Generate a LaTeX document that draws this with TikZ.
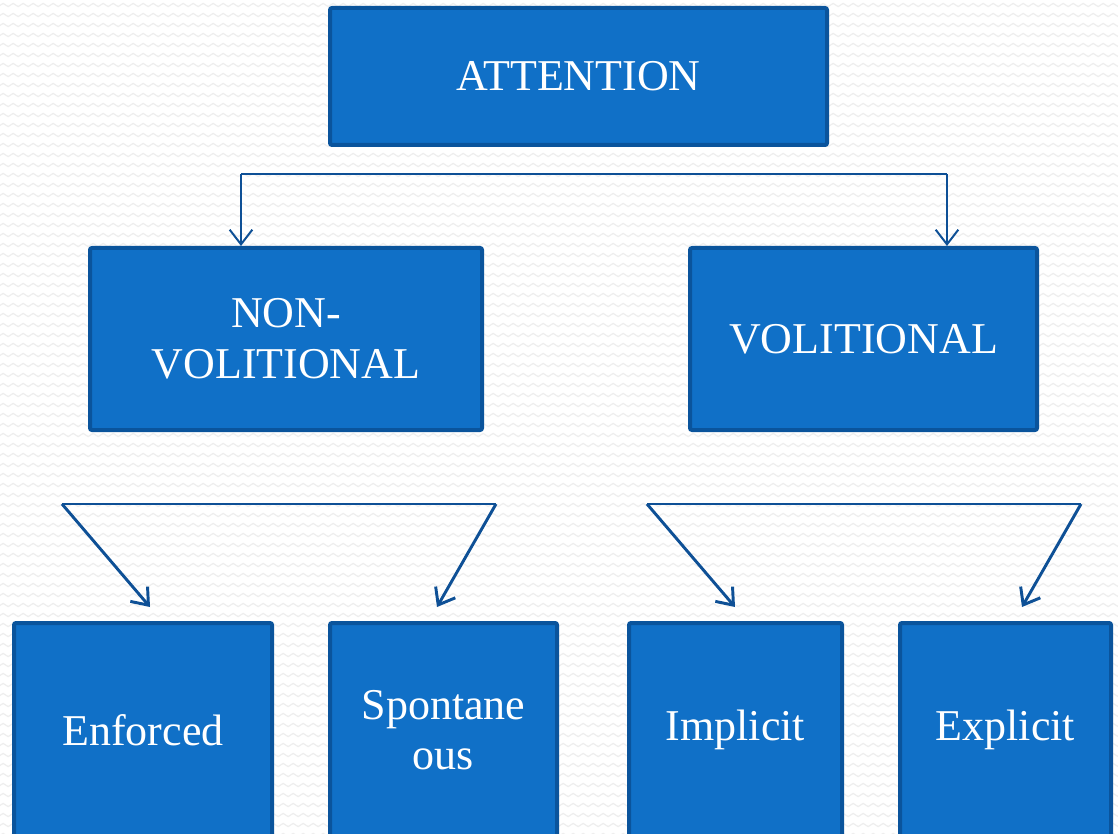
\documentclass[tikz,border=0pt]{standalone}
\usepackage{fontspec}
\setmainfont{Liberation Serif}
\usetikzlibrary{arrows.meta,decorations.pathmorphing}
\definecolor{boxfill}{RGB}{16,112,199}
\definecolor{boxline}{RGB}{10,84,156}
\definecolor{conn}{RGB}{14,80,150}
\definecolor{wave}{RGB}{238,238,238}
\tikzset{
  box/.style={draw=boxline, fill=boxfill, line width=3pt, rounded corners=1.5pt,
    inner sep=0pt, text=white, align=center,
    font=\fontsize{33}{38}\selectfont},
  thinline/.style={draw=conn, line width=1.5pt},
  arrowline/.style={draw=conn, line width=1.5pt, -{Straight Barb[length=11pt,width=17pt]}},
  diagarrow/.style={draw=conn, line width=2.2pt, -{Straight Barb[length=11pt,width=17pt]}},
  bgwave/.style={draw=wave, line width=0.9pt, decorate,
    decoration={snake, segment length=7.5pt, amplitude=1.2pt}}
}
\begin{document}
\begin{tikzpicture}[x=0.75pt,y=-0.75pt]
\useasboundingbox (0,0) rectangle (1118,834);
\clip (0,0) rectangle (1118,834);
\fill[white] (0,0) rectangle (1118,834);
\foreach \yy in {5,15,...,835} {
  \draw[bgwave] (-10,\yy) -- (1130,\yy);
}
% boxes
\node[box, minimum width=372.75pt, minimum height=102.75pt] (att) at (578.5,76.5) {ATTENTION};
\node[box, minimum width=294pt, minimum height=136.5pt] (nonvol) at (286,339) {NON-\\VOLITIONAL};
\node[box, minimum width=260.25pt, minimum height=136.5pt] (vol) at (863.5,339) {VOLITIONAL};
\node[box, minimum width=193.5pt, minimum height=160.5pt] (enf) at (143,730) {Enforced};
\node[box, minimum width=170.25pt, minimum height=160.5pt] (spont) at (443.5,730) {Spontane\\ous};
\node[box, minimum width=159.75pt, minimum height=160.5pt] (impl) at (735.5,730) {Implicit};
\node[box, minimum width=158.25pt, minimum height=160.5pt] (expl) at (1005.5,730) {Explicit};
% top connector
\coordinate (t1) at (241,174);
\coordinate (t2) at (947,174);
\draw[thinline] (t1) -- (t2);
\draw[arrowline] (t1) -- (t1 |- nonvol.north);
\draw[arrowline] (t2) -- (t2 |- vol.north);
% bottom left connector
\coordinate (b1) at (62,504);
\coordinate (b2) at (496,504);
\coordinate (e1) at (150,607);
\coordinate (e2) at (437,607);
\draw[thinline] (b1) -- (b2);
\draw[diagarrow] (b1) -- (e1);
\draw[diagarrow] (b2) -- (e2);
% bottom right connector
\coordinate (b3) at (647,504);
\coordinate (b4) at (1081,504);
\coordinate (e3) at (735,607);
\coordinate (e4) at (1022,607);
\draw[thinline] (b3) -- (b4);
\draw[diagarrow] (b3) -- (e3);
\draw[diagarrow] (b4) -- (e4);
\end{tikzpicture}
\end{document}
